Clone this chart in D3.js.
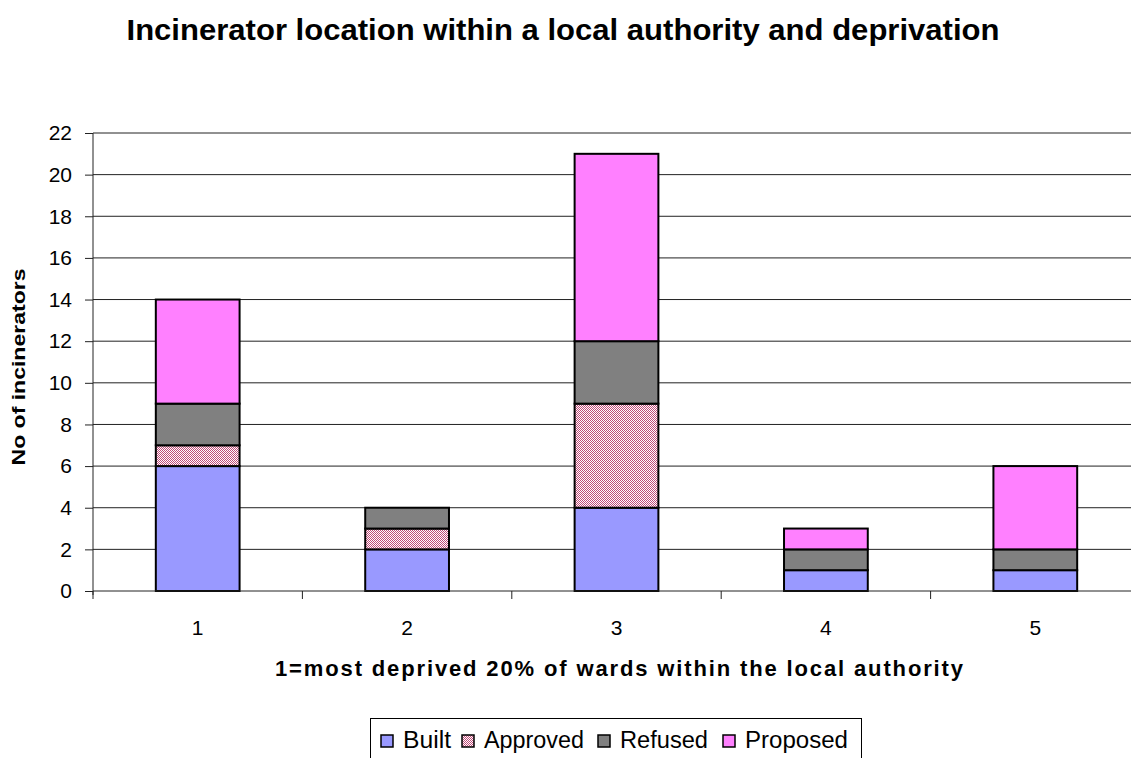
<!DOCTYPE html>
<html>
<head>
<meta charset="utf-8">
<script src="https://cdn.jsdelivr.net/npm/d3@7"></script>
<style>
  body { margin: 0; background: #fff; }
  svg { display: block; font-family: "Liberation Sans", Arial, sans-serif; }
</style>
</head>
<body>
<svg id="chart" width="1131" height="758"></svg>
<script>
// data
const categories = ["1", "2", "3", "4", "5"];
const seriesNames = ["Built", "Approved", "Refused", "Proposed"];
const built = [6, 2, 4, 1, 1];
const approved = [1, 1, 5, 0, 0];
const refused = [2, 1, 3, 1, 1];
const proposed = [5, 0, 9, 1, 4];
const yTicks = [0, 2, 4, 6, 8, 10, 12, 14, 16, 18, 20, 22];

let rows = categories.map(function(c, i){
  return {cat: c, Built: built[i], Approved: approved[i], Refused: refused[i], Proposed: proposed[i]};
});

let svg = d3.select("#chart");

// pattern for approved
let defs = svg.append("defs");
let pat = defs.append("pattern").attr("id", "checker")
  .attr("width", 2).attr("height", 2).attr("patternUnits", "userSpaceOnUse");
pat.append("rect").attr("width", 2).attr("height", 2).attr("fill", "#fff");
pat.append("rect").attr("width", 1).attr("height", 1).attr("fill", "#c04a78");
pat.append("rect").attr("x", 1).attr("y", 1).attr("width", 1).attr("height", 1).attr("fill", "#c04a78");

const fills = {Built: "#9999ff", Approved: "url(#checker)", Refused: "#808080", Proposed: "#ff80ff"};

let pLeft = 93, pRight = 1140, pTop = 133, pBottom = 591;

let x = d3.scaleBand().domain(categories).range([pLeft, pRight]).paddingInner(0.6).paddingOuter(0.3);
let y = d3.scaleLinear().domain([0, 22]).range([pBottom, pTop]);

// gridlines
svg.append("g").selectAll("line").data(yTicks.slice(1)).join("line")
  .attr("x1", pLeft).attr("x2", pRight)
  .attr("y1", d => y(d)).attr("y2", d => y(d))
  .attr("stroke", "#222").attr("stroke-width", 1);

// bars
let stack = d3.stack().keys(seriesNames)(rows);
svg.append("g").selectAll("g").data(stack).join("g")
  .attr("fill", d => fills[d.key])
  .selectAll("rect").data(d => d.filter(p => p[1] > p[0])).join("rect")
  .attr("x", d => x(d.data.cat))
  .attr("width", x.bandwidth())
  .attr("y", d => y(d[1]))
  .attr("height", d => y(d[0]) - y(d[1]))
  .attr("stroke", "#000").attr("stroke-width", 2);

// y axis
let yAxis = d3.axisLeft(y).tickValues(yTicks).tickSize(8).tickPadding(13);
let gy = svg.append("g").attr("transform", "translate(" + pLeft + ",0)").call(yAxis);
gy.select(".domain").attr("stroke", "#222").attr("d", "M0," + (pBottom + 4) + "V" + pTop);
gy.selectAll(".tick line").attr("stroke", "#222");
gy.selectAll("text").attr("font-size", 21).attr("fill", "#000").attr("font-family", "Liberation Sans, Arial, sans-serif");

// x axis with ticks between categories
let gx = svg.append("g").attr("transform", "translate(0," + pBottom + ")");
gx.append("line").attr("x1", pLeft).attr("x2", pRight).attr("stroke", "#222");
let bounds = d3.range(categories.length + 1).map(i => pLeft + i * (pRight - pLeft) / categories.length);
gx.selectAll(".tk").data(bounds).join("line").attr("class", "tk")
  .attr("x1", d => d).attr("x2", d => d).attr("y1", 0).attr("y2", 8).attr("stroke", "#222");
gx.selectAll("text").data(categories).join("text")
  .attr("x", d => x(d) + x.bandwidth() / 2).attr("y", 44)
  .attr("text-anchor", "middle").attr("font-size", 21).text(d => d);

// titles
svg.append("text").attr("x", 563).attr("y", 40).attr("text-anchor", "middle")
  .attr("font-size", 29).attr("font-weight", "bold")
  .attr("textLength", 873).attr("lengthAdjust", "spacingAndGlyphs")
  .text("Incinerator location within a local authority and deprivation");

svg.append("text").attr("transform", "translate(25,367) rotate(-90)")
  .attr("text-anchor", "middle").attr("font-size", 19).attr("font-weight", "bold")
  .attr("textLength", 197).attr("lengthAdjust", "spacingAndGlyphs")
  .text("No of incinerators");

svg.append("text").attr("x", 619).attr("y", 676).attr("text-anchor", "middle")
  .attr("font-size", 22).attr("font-weight", "bold")
  .attr("textLength", 688).attr("lengthAdjust", "spacing")
  .text("1=most deprived 20% of wards within the local authority");

// legend
let lg = svg.append("g");
lg.append("rect").attr("x", 370.5).attr("y", 718.5).attr("width", 491).attr("height", 45)
  .attr("fill", "#fff").attr("stroke", "#000");
const legendX = [381, 462, 598, 723];
const legendTextW = [48, 100, 88, 103];
seriesNames.forEach(function(name, i){
  lg.append("rect").attr("x", legendX[i]).attr("y", 735).attr("width", 12).attr("height", 12)
    .attr("fill", fills[name]).attr("stroke", "#000").attr("stroke-width", 1.5);
  lg.append("text").attr("x", legendX[i] + 22).attr("y", 748).attr("font-size", 23)
    .attr("textLength", legendTextW[i]).attr("lengthAdjust", "spacingAndGlyphs").text(name);
});
</script>
</body>
</html>
